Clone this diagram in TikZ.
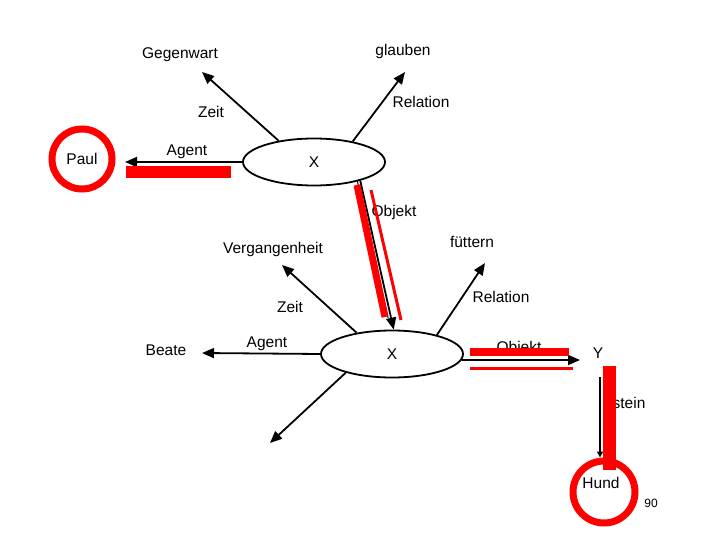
\documentclass[tikz,border=0pt]{standalone}
\usepackage{fontspec}
\setmainfont{Liberation Sans}
\usetikzlibrary{shapes.geometric,arrows.meta}

\tikzset{
    lbl/.style={font=\fontsize{15.5}{18}\selectfont, inner sep=0pt},
    pfeil/.style={line width=1.8pt, -{Triangle[length=12pt,width=10pt]}},
    knoten/.style={ellipse, draw, line width=1.8pt, minimum width=142pt, minimum height=47pt, inner sep=0pt},
    ring/.style={circle, draw=red, line width=7pt, inner sep=0pt},
    balken/.style={draw=red, line cap=butt}
}

\begin{document}
\begin{tikzpicture}[x=1pt, y=-1pt]
            \useasboundingbox (0, 0) rectangle (720, 540);
            % oberer Teil
            \node[knoten, lbl] (xo) at (314, 162) {X};
            \node[ring, minimum size=60pt, lbl] (paul) at (82, 159) {Paul};
            \node[lbl] (gegenwart) at (180, 55) {Gegenwart};
            \node[lbl] (glauben) at (403, 51) {glauben};
            \node[lbl] (zeitO) at (211, 112) {Zeit};
            \node[lbl] (relO) at (421, 102) {Relation};
            \node[lbl] (agentO) at (187, 152) {Agent};
            \coordinate (gegenA) at (202, 72);
            \coordinate (glaubA) at (405, 72);
            \coordinate (paulA) at (125, 162);
            \draw[pfeil] (xo.149) -- (gegenA);
            \draw[pfeil] (xo.28) -- (glaubA);
            \draw[pfeil] (xo.west) -- (paulA);
            % unterer Teil
            \node[knoten, lbl] (xu) at (392, 354) {X};
            \node[lbl] (objO) at (394, 212) {Objekt};
            \node[lbl] (verg) at (273, 249) {Vergangenheit};
            \node[lbl] (fuettern) at (472, 242) {füttern};
            \node[lbl] (zeitU) at (290, 307) {Zeit};
            \node[lbl] (relU) at (501, 297) {Relation};
            \node[lbl] (beate) at (166, 350) {Beate};
            \node[lbl] (agentU) at (267, 344) {Agent};
            \node[lbl] (objU) at (519, 348) {Objekt};
            \node[lbl] (y) at (598, 353) {Y};
            \node[lbl] (istein) at (629, 403) {stein};
            \node[ring, minimum size=62pt] (hund) at (604, 492) {};
            \node[lbl] (hundT) at (601, 483) {Hund};
            \node[font=\fontsize{12}{14}\selectfont, inner sep=0pt] (seite) at (651, 503) {90};
            \coordinate (vergA) at (282, 265);
            \coordinate (fuetA) at (485, 263);
            \coordinate (beateA) at (202, 353);
            \coordinate (untenA) at (270, 443);
            \coordinate (yA) at (580, 360);
            \coordinate (iseA) at (600, 377);
            \draw[pfeil] (xo.-22) -- (xu.86);
            \draw[line width=1pt, shorten >=12pt] ([xshift=-3pt]xo.-22) -- ([xshift=-3pt]xu.86);
            \draw[pfeil] (xu.149) -- (vergA);
            \draw[pfeil] (xu.23) -- (fuetA);
            \draw[pfeil] (xu.west) -- (beateA);
            \draw[pfeil] (xu.202) -- (untenA);
            \draw[pfeil] (xu.-5) -- (yA);
            \draw[line width=1.5pt, -{Triangle[length=6pt,width=6pt]}] (iseA) -- (iseA |- hund.north);
            % rote Markierungen
            \draw[balken, line width=12pt] (126, 172) -- (231, 172);
            \draw[balken, line width=7pt] (357, 185) -- (385, 317);
            \draw[balken, line width=3pt] (371, 190) -- (401, 320);
            \draw[balken, line width=8pt] (470, 352) -- (569, 352);
            \draw[balken, line width=3pt] (470, 368) -- (573, 368);
            \draw[balken, line width=13pt] (609.5, 366) -- (609.5, 470);
        \end{tikzpicture}
\end{document}
